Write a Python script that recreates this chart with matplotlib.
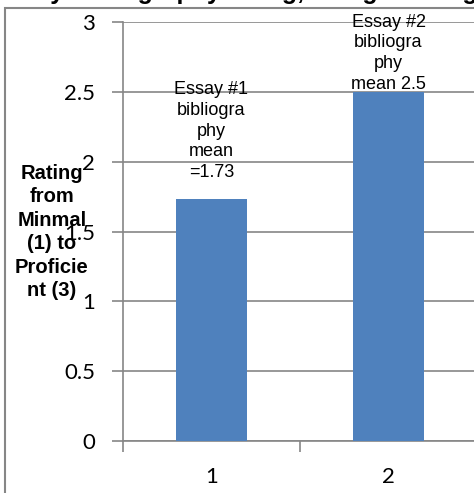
import matplotlib.pyplot as plt
from matplotlib.patches import Rectangle

# data
essays = [1, 2]
means = [1.73, 2.5]
bar_labels = ['Essay #1\nbibliogra\nphy\nmean\n=1.73', 'Essay #2\nbibliogra\nphy\nmean 2.5']
y_ticks = [0, 0.5, 1, 1.5, 2, 2.5, 3]
y_tick_labels = ['0', '0.5', '1', '1.5', '2', '2.5', '3']
title = 'Essay bibliography rating, using Scoring Guide'
ylabel = 'Rating\nfrom\nMinmal\n(1) to\nProficie\nnt (3)'

W, H = 474, 493
grey = '#868686'
fig = plt.figure(figsize=(W / 100, H / 100), dpi=100)

# outer chart frame (runs off the right and bottom edges)
fig.patches.append(Rectangle((5 / W, -0.1), 1.2, (H - 8) / H + 0.1, transform=fig.transFigure,
                             fill=False, edgecolor=grey, lw=1.5, clip_on=False))

# title, mostly cut off at the top
fig.text(-8 / W, 1 + 1 / H, title, fontsize=18, fontweight='bold', family='Liberation Sans',
         ha='left', va='baseline')

ax = fig.add_axes([123 / W, 52 / H, 354 / W, 419 / H])
ax.bar(essays, means, width=0.4, color='#4F81BD', zorder=3)
ax.set_xlim(0.5, 2.5)
ax.set_ylim(0, 3)

ax.set_yticks(y_ticks)
ax.set_yticklabels(y_tick_labels, family='Lato', fontsize=16)
ax.tick_params(axis='y', direction='out', length=8, width=1.2, color=grey, pad=12)
ax.grid(axis='y', color=grey, lw=1.2, zorder=0)

# category boundaries as major ticks, labels as minor ticks
ax.set_xticks([0.5, 1.5, 2.5])
ax.set_xticklabels([])
ax.set_xticks(essays, minor=True)
ax.set_xticklabels([str(e) for e in essays], minor=True, family='Lato', fontsize=16)
ax.tick_params(axis='x', which='major', direction='out', length=8, width=1.2, color=grey)
ax.tick_params(axis='x', which='minor', length=0, pad=19)

for s in ['top', 'right']:
    ax.spines[s].set_visible(False)
for s in ['left', 'bottom']:
    ax.spines[s].set_color(grey)
    ax.spines[s].set_linewidth(1.2)

# data labels above bars
offsets = [13, -1]
for x, m, lab, off in zip(essays, means, bar_labels, offsets):
    ax.annotate(lab, (x, m), xytext=(0, off), textcoords='offset points',
                ha='center', va='bottom', fontsize=13, family='Liberation Sans',
                linespacing=1.3, zorder=4)

fig.text(52 / W, 1 - 232 / H, ylabel, fontsize=14.5, fontweight='bold', family='Liberation Sans',
         ha='center', va='center', linespacing=1.3)

fig.savefig('out.png', dpi=100)
